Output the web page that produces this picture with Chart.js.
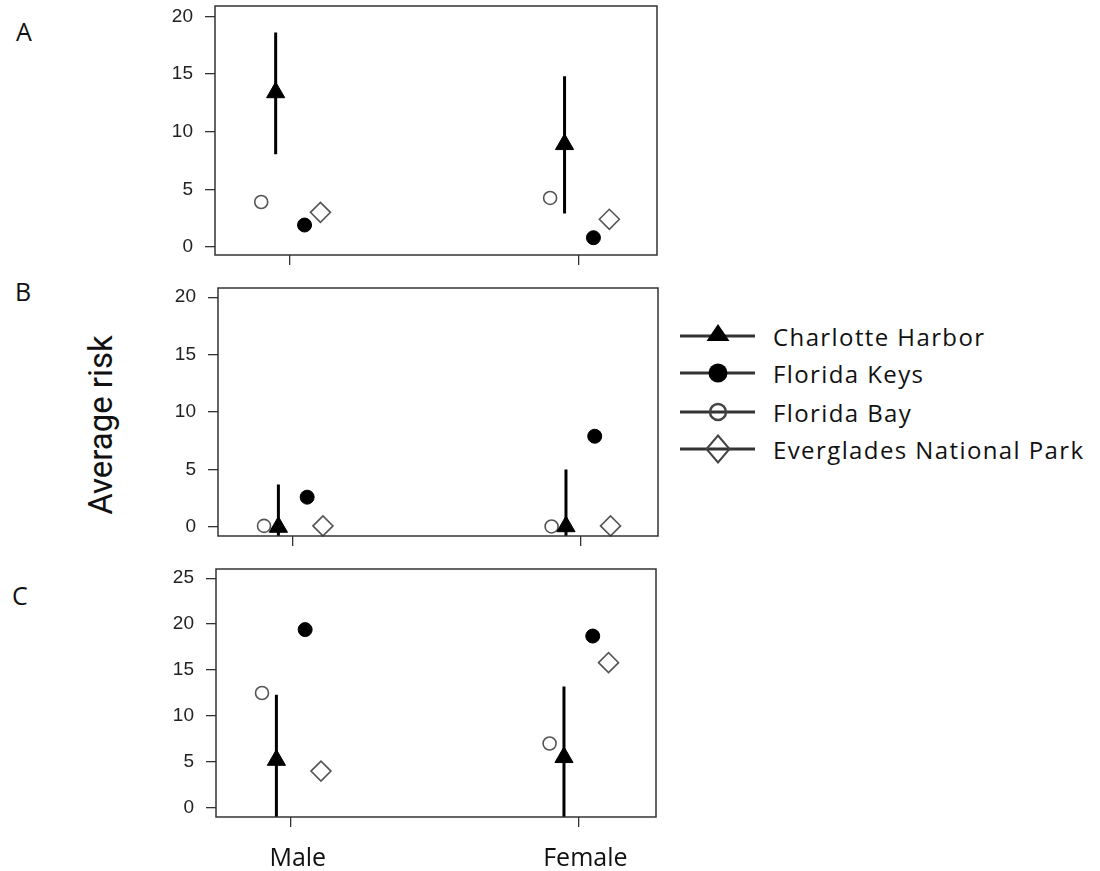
<!DOCTYPE html>
<html lang="en">
<head>
<meta charset="UTF-8">
<title>Average risk</title>
<script src="https://cdn.jsdelivr.net/npm/chart.js"></script>
<style>
  body { margin: 0; background: #fff; }
  #wrap { position: relative; width: 1100px; height: 871px; background: #fff; overflow: hidden; }
  canvas { position: absolute; }
  .panel { position: absolute; font-family: "Open Sans", sans-serif; font-size: 25px; line-height: 1; color: #111; }
  #ylab { position: absolute; left: 100px; top: 425px; transform: translate(-50%, -50%) rotate(-90deg);
          font-family: Roboto, "Liberation Sans", sans-serif; font-size: 33px; white-space: nowrap; color: #111; }
  .leg { position: absolute; left: 678px; height: 30px; display: flex; align-items: center;
         font-family: "Open Sans", sans-serif; font-size: 24px; letter-spacing: 1.4px; color: #111; white-space: nowrap; }
  .leg svg { width: 80px; height: 30px; margin-right: 15px; }
</style>
</head>
<body>
<div id="wrap">
  <div class="panel" style="left:16px; top:19px">A</div>
  <div class="panel" style="left:15px; top:279px">B</div>
  <div class="panel" style="left:12px; top:583px">C</div>
  <div id="ylab">Average risk</div>

  <canvas id="chartA" width="520" height="280" style="left:150px; top:0px"></canvas>
  <canvas id="chartB" width="520" height="280" style="left:150px; top:280px"></canvas>
  <canvas id="chartC" width="520" height="311" style="left:150px; top:560px"></canvas>

  <div class="leg" style="top:321px">
    <svg viewBox="0 0 80 30"><line x1="2" y1="15" x2="77" y2="15" stroke="#333" stroke-width="3"/>
      <polygon points="40,3 51.5,20 28.5,20" fill="#000"/></svg>Charlotte Harbor</div>
  <div class="leg" style="top:358px">
    <svg viewBox="0 0 80 30"><line x1="2" y1="15" x2="77" y2="15" stroke="#333" stroke-width="3"/>
      <circle cx="40" cy="15" r="9.5" fill="#000"/></svg>Florida Keys</div>
  <div class="leg" style="top:397px">
    <svg viewBox="0 0 80 30"><line x1="2" y1="15" x2="77" y2="15" stroke="#333" stroke-width="3"/>
      <circle cx="40" cy="15" r="8" fill="none" stroke="#444" stroke-width="2.5"/></svg>Florida Bay</div>
  <div class="leg" style="top:434px">
    <svg viewBox="0 0 80 30"><line x1="2" y1="15" x2="77" y2="15" stroke="#333" stroke-width="3"/>
      <polygon points="40,1.5 51.5,15 40,28.5 28.5,15" fill="none" stroke="#444" stroke-width="2"/></svg>Everglades National Park</div>
</div>

<script>
// categories and sites
const groups = ['Male', 'Female'];
const sites = ['Charlotte Harbor', 'Florida Keys', 'Florida Bay', 'Everglades National Park'];
const yTicksAB = [0, 5, 10, 15, 20];
const yTicksC = [0, 5, 10, 15, 20, 25];

// panel A
const aCharlotte = [13.4, 8.9];
const aCharlotteLow = [8.05, 2.9];
const aCharlotteHigh = [18.6, 14.8];
const aKeys = [1.9, 0.8];
const aBay = [3.9, 4.25];
const aEverglades = [3.0, 2.4];

// panel B
const bCharlotte = [0.0, 0.05];
const bCharlotteLow = [-3.7, -5.0];
const bCharlotteHigh = [3.7, 5.0];
const bKeys = [2.6, 7.9];
const bBay = [0.1, 0.05];
const bEverglades = [0.1, 0.1];

// panel C
const cCharlotte = [5.2, 5.5];
const cCharlotteLow = [-1.9, -2.2];
const cCharlotteHigh = [12.3, 13.2];
const cKeys = [19.4, 18.7];
const cBay = [12.5, 7.0];
const cEverglades = [4.0, 15.8];

// horizontal dodge of each site around its group position
const dodge = { charlotte: -0.05, keys: 0.05, bay: -0.10, everglades: 0.105 };

Chart.defaults.font.family = '"Liberation Sans", Arial, sans-serif';
Chart.defaults.animation = false;

const boxPlugin = {
  id: 'box',
  afterDraw(chart) {
    const { ctx, chartArea: a } = chart;
    ctx.save();
    ctx.strokeStyle = '#333';
    ctx.lineWidth = 1.5;
    ctx.strokeRect(a.left, a.top, a.right - a.left, a.bottom - a.top);
    ctx.restore();
  }
};

function pts(vals, off) {
  return vals.map((v, i) => ({ x: i + 1 + off, y: v }));
}

function errPts(lo, hi, off) {
  const out = [];
  lo.forEach((l, i) => {
    out.push({ x: i + 1 + off, y: l }, { x: i + 1 + off, y: hi[i] }, { x: i + 1 + off, y: null });
  });
  return out;
}

// no automatic padding for half-labels, the layout is fixed
function noPad(s) {
  s.paddingTop = 0; s.paddingBottom = 0; s.paddingLeft = 0; s.paddingRight = 0;
}

function makePanel(id, d, opt) {
  const datasets = [
    { label: sites[0], data: pts(d.charlotte, dodge.charlotte), pointStyle: 'triangle', pointRadius: 10.5,
      backgroundColor: '#000', borderColor: '#000', borderWidth: 1, clip: false },
    { label: sites[1], data: pts(d.keys, dodge.keys), pointStyle: 'circle', pointRadius: 7,
      backgroundColor: '#000', borderColor: '#000', borderWidth: 1, clip: false },
    { label: sites[2], data: pts(d.bay, dodge.bay), pointStyle: 'circle', pointRadius: 6.5,
      backgroundColor: 'rgba(0,0,0,0)', borderColor: '#555', borderWidth: 1.6, clip: false },
    { label: sites[3], data: pts(d.everglades, dodge.everglades), pointStyle: 'rectRot', pointRadius: 10,
      backgroundColor: 'rgba(0,0,0,0)', borderColor: '#555', borderWidth: 1.6, clip: false },
    { label: 'CI', data: errPts(d.low, d.high, dodge.charlotte), showLine: true, spanGaps: false,
      pointRadius: 0, borderColor: '#000', borderWidth: 3 }
  ];
  new Chart(document.getElementById(id), {
    type: 'scatter',
    data: { datasets },
    plugins: [boxPlugin],
    options: {
      responsive: false,
      layout: { autoPadding: false, padding: { top: opt.top, right: opt.right, left: 0, bottom: 0 } },
      plugins: { legend: { display: false }, tooltip: { enabled: false } },
      scales: {
        x: {
          type: 'linear', min: 0.74, max: 2.27,
          afterBuildTicks: s => { s.ticks = groups.map((g, i) => ({ value: i + 1 })); },
          afterFit: s => { s.height = opt.xh; noPad(s); },
          border: { display: false },
          grid: { drawOnChartArea: false, drawTicks: true, tickLength: 10, color: '#333', lineWidth: 1.3 },
          ticks: {
            display: opt.xlabels, padding: 17, labelOffset: 7, color: '#111',
            font: { family: '"Open Sans", sans-serif', size: 25 },
            callback: v => groups[Math.round(v) - 1]
          }
        },
        y: {
          min: opt.ymin, max: opt.ymax,
          afterBuildTicks: s => { s.ticks = opt.yticks.map(v => ({ value: v })); },
          afterFit: s => { s.width = opt.yw; noPad(s); },
          border: { display: false },
          grid: { drawOnChartArea: false, drawTicks: true, tickLength: 10, color: '#333', lineWidth: 1.3 },
          ticks: { padding: 12, color: '#222', font: { size: 19, lineHeight: 0.4 } }
        }
      }
    }
  });
}

makePanel('chartA',
  { charlotte: aCharlotte, low: aCharlotteLow, high: aCharlotteHigh, keys: aKeys, bay: aBay, everglades: aEverglades },
  { top: 6, right: 13, xh: 25, yw: 65, ymin: -0.7, ymax: 20.9, yticks: yTicksAB, xlabels: false });

makePanel('chartB',
  { charlotte: bCharlotte, low: bCharlotteLow, high: bCharlotteHigh, keys: bKeys, bay: bBay, everglades: bEverglades },
  { top: 8, right: 12, xh: 24, yw: 68, ymin: -0.78, ymax: 20.8, yticks: yTicksAB, xlabels: false });

makePanel('chartC',
  { charlotte: cCharlotte, low: cCharlotteLow, high: cCharlotteHigh, keys: cKeys, bay: cBay, everglades: cEverglades },
  { top: 9, right: 14, xh: 54, yw: 66, ymin: -1.0, ymax: 26.0, yticks: yTicksC, xlabels: true });
</script>
</body>
</html>
